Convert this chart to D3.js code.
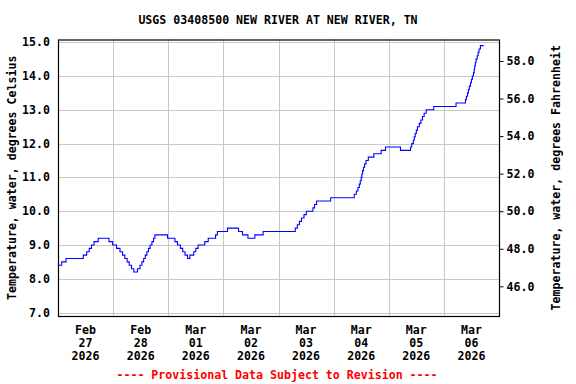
<!DOCTYPE html>
<html>
<head>
<meta charset="utf-8">
<script src="https://cdn.jsdelivr.net/npm/d3@7"></script>
<style>
  body { margin: 0; background: #fff; }
  svg text { font-family: "DejaVu Sans Mono", "Liberation Mono", monospace; font-weight: bold; }
</style>
</head>
<body>
<div class="graph"></div>
<script>
// hours since 2026-02-27 00:00 where the reading changes, and the reading (deg C)
const readingHours = [
  0, 1.6, 3.5, 11.0, 12.5, 13.6, 14.6, 15.7, 17.5, 22.2, 23.8, 25.5, 27.0, 28.1, 29.1, 30.1,
  31.0, 32.0, 33.0, 34.6, 35.7, 36.5, 37.3, 38.0, 38.7, 39.4, 40.1, 40.9, 41.6, 42.2, 47.7,
  50.9, 52.0, 53.3, 54.3, 55.3, 56.4, 57.4, 59.1, 60.0,
  61.0, 63.9, 65.4, 68.6, 69.4, 73.8, 78.6, 80.3, 82.7, 85.7, 89.3, 103.3, 104.2, 105.1,
  106.0, 107.1, 108.1, 111.0, 111.7, 112.6, 118.7,
  129.0, 129.9, 130.6, 131.2, 131.6, 132.0, 132.3, 132.6, 133.0, 133.5, 134.1, 135.1, 137.5,
  140.7, 142.6, 149.1, 153.5, 154.0, 154.7, 155.1, 155.5, 156.0, 156.5, 157.3, 158.0, 158.7,
  159.4, 160.3,
  163.6, 173.3, 177.4, 177.8, 178.3, 178.7, 179.1, 179.6, 180.0, 180.4, 180.9, 181.2, 181.4,
  181.7, 182.0, 182.5, 182.9, 183.3, 183.9, 185.3
];
const tempC = [
  8.4, 8.5, 8.6, 8.7, 8.8, 8.9, 9.0, 9.1, 9.2, 9.1, 9.0, 8.9, 8.8, 8.7, 8.6, 8.5,
  8.4, 8.3, 8.2, 8.3, 8.4, 8.5, 8.6, 8.7, 8.8, 8.9, 9.0, 9.1, 9.2, 9.3, 9.2,
  9.1, 9.0, 8.9, 8.8, 8.7, 8.6, 8.7, 8.8, 8.9,
  9.0, 9.1, 9.2, 9.3, 9.4, 9.5, 9.4, 9.3, 9.2, 9.3, 9.4, 9.5, 9.6, 9.7,
  9.8, 9.9, 10.0, 10.1, 10.2, 10.3, 10.4,
  10.5, 10.6, 10.7, 10.8, 10.9, 11.0, 11.1, 11.2, 11.3, 11.4, 11.5, 11.6, 11.7,
  11.8, 11.9, 11.8, 11.9, 12.0, 12.1, 12.2, 12.3, 12.4, 12.5, 12.6, 12.7, 12.8,
  12.9, 13.0,
  13.1, 13.2, 13.3, 13.4, 13.5, 13.6, 13.7, 13.8, 13.9, 14.0, 14.1, 14.2, 14.3,
  14.4, 14.5, 14.6, 14.7, 14.8, 14.9, 14.9
];
const dayLabels = [
  ['Feb', '27', '2026'], ['Feb', '28', '2026'], ['Mar', '01', '2026'], ['Mar', '02', '2026'],
  ['Mar', '03', '2026'], ['Mar', '04', '2026'], ['Mar', '05', '2026'], ['Mar', '06', '2026']
];
const celsiusTicks = [7, 8, 9, 10, 11, 12, 13, 14, 15];
const fahrenheitTicks = [46, 48, 50, 52, 54, 56, 58];

const width = 576, height = 384;
const plotLeft = 58, plotRight = 499, plotTop = 39.5, plotBottom = 316;
const fontSize = '11.6px';
const start = new Date(2026, 1, 27);
const end = new Date(2026, 2, 7);

const svg = d3.select('.graph')
    .append('svg')
    .attr('width', width)
    .attr('height', height);

const x = d3.scaleTime().domain([start, end]).range([plotLeft, plotRight]);
const y = d3.scaleLinear().domain([6.9, 15.08]).range([plotBottom, plotTop]);
const yF = d3.scaleLinear().domain([6.9 * 1.8 + 32, 15.08 * 1.8 + 32]).range([plotBottom, plotTop]);

const data = readingHours.map((h, i) => ({
    t: new Date(start.getTime() + h * 3600e3),
    v: tempC[i]
}));

// grid
const days = d3.timeDay.range(d3.timeDay.offset(start, 1), end);
svg.append('g')
    .selectAll('line')
    .data(days)
    .enter()
    .append('line')
    .attr('x1', d => Math.round(x(d)) + 0.5)
    .attr('x2', d => Math.round(x(d)) + 0.5)
    .attr('y1', plotTop)
    .attr('y2', plotBottom)
    .attr('stroke', '#c8c8c8');
svg.append('g')
    .selectAll('line')
    .data(celsiusTicks)
    .enter()
    .append('line')
    .attr('x1', plotLeft)
    .attr('x2', plotRight)
    .attr('y1', d => Math.round(y(d)) + 0.5)
    .attr('y2', d => Math.round(y(d)) + 0.5)
    .attr('stroke', '#c8c8c8');

// data line
const line = d3.line()
    .x(d => x(d.t))
    .y(d => y(d.v))
    .curve(d3.curveStepAfter);
svg.append('path')
    .datum(data)
    .attr('d', line)
    .attr('fill', 'none')
    .attr('stroke', '#0000ff')
    .attr('stroke-width', 1.1);

// frame
svg.append('rect')
    .attr('x', plotLeft + 0.5)
    .attr('y', plotTop + 0.5)
    .attr('width', plotRight - plotLeft)
    .attr('height', plotBottom - plotTop)
    .attr('fill', 'none')
    .attr('stroke', '#000')
    .attr('stroke-width', 1.2);

// left axis labels
svg.append('g')
    .selectAll('text')
    .data(celsiusTicks)
    .enter()
    .append('text')
    .attr('x', 50)
    .attr('y', d => y(d) + 4)
    .attr('text-anchor', 'end')
    .style('font-size', fontSize)
    .text(d => d.toFixed(1));

// right axis
const rightAxis = svg.append('g')
    .attr('transform', `translate(${plotRight + 0.5},0)`)
    .call(d3.axisRight(yF).tickValues(fahrenheitTicks).tickSize(4).tickPadding(3).tickFormat(d => d.toFixed(1)));
rightAxis.select('.domain').remove();
rightAxis.selectAll('text')
    .style('font-size', fontSize)
    .attr('fill', '#000');

// x labels
const dayGroups = svg.append('g')
    .selectAll('text')
    .data(dayLabels)
    .enter()
    .append('text')
    .attr('x', (d, i) => x(d3.timeHour.offset(start, 24 * i + 12)))
    .attr('y', 334)
    .attr('text-anchor', 'middle')
    .style('font-size', fontSize);
dayGroups.selectAll('tspan')
    .data(d => d)
    .enter()
    .append('tspan')
    .attr('x', function () { return this.parentNode.getAttribute('x'); })
    .attr('dy', (d, i) => i === 0 ? 0 : 13)
    .text(d => d);

// titles
svg.append('text')
    .attr('x', 278)
    .attr('y', 24)
    .attr('text-anchor', 'middle')
    .style('font-size', fontSize)
    .text('USGS 03408500 NEW RIVER AT NEW RIVER, TN');
svg.append('text')
    .attr('transform', `translate(16, ${(plotTop + plotBottom) / 2}) rotate(-90)`)
    .attr('text-anchor', 'middle')
    .style('font-size', fontSize)
    .text('Temperature, water, degrees Celsius');
svg.append('text')
    .attr('transform', `translate(560, ${(plotTop + plotBottom) / 2}) rotate(-90)`)
    .attr('text-anchor', 'middle')
    .style('font-size', fontSize)
    .text('Temperature, water, degrees Fahrenheit');
svg.append('text')
    .attr('x', 277)
    .attr('y', 379)
    .attr('text-anchor', 'middle')
    .attr('fill', '#ff0000')
    .style('font-size', fontSize)
    .text('---- Provisional Data Subject to Revision ----');
</script>
</body>
</html>
